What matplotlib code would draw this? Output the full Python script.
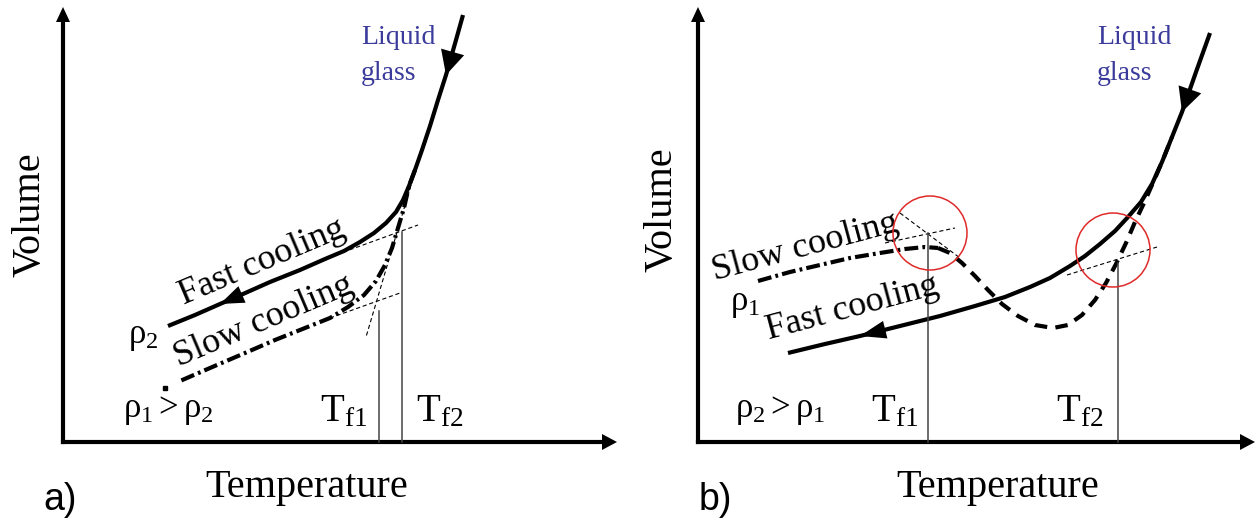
import numpy as np
import matplotlib
matplotlib.use("Agg")
from matplotlib import pyplot as plt
from matplotlib.patches import Polygon, Circle

plt.rcParams['mathtext.fontset'] = 'custom'
plt.rcParams['mathtext.rm'] = 'Liberation Serif'
plt.rcParams['mathtext.it'] = 'Liberation Serif:italic'
plt.rcParams['lines.scale_dashes'] = False

SERIF = 'Liberation Serif'
SANS = 'Liberation Sans'
BLUE = '#3b3b9b'
RED = '#e02a2a'

# ---- panel a (sketch coordinates, y grows downwards) ----
fast_a_x = [463, 456, 446, 438, 430, 422, 415, 409, 403, 396, 386, 374, 360, 344, 325, 300, 270, 243, 220, 195, 168]
fast_a_y = [15, 40, 75, 100, 126, 150, 170, 186, 200, 212, 223, 233, 242, 251, 259, 270, 282, 294, 304, 315, 326]
slow_a_x = [415, 409, 404, 398, 392, 385, 376, 364, 348, 330, 305, 275, 245, 210, 180]
slow_a_y = [170, 186, 208, 228, 248, 265, 281, 295, 307, 318, 328, 340, 353, 368, 381]
slow_a_dot = (165, 388)
ext_a = [((330, 418), (257, 225)), ((330, 400), (318, 293)), ((411, 366), (185, 337))]
tf_a_x = [379, 402]
tf_a_top = [311, 232]

# ---- panel b ----
fast_b_x = [1210, 1196, 1182, 1172, 1162, 1152, 1141, 1128, 1115, 1100, 1085, 1070, 1050, 1030, 1005, 975, 940, 900, 860, 825, 788]
fast_b_y = [33, 72, 112, 137, 162, 184, 202, 217, 231, 244, 256, 266, 278, 287, 297, 306, 316, 326, 336, 344, 353]
slow_b1_x = [758, 790, 820, 850, 880, 905, 925, 938]
slow_b1_y = [281, 272, 265, 258, 253, 249, 247, 248]
slow_b2_x = [938, 950, 962, 975, 988, 1002, 1018, 1035, 1053, 1068, 1082, 1095, 1106, 1116, 1126, 1135, 1144, 1152, 1162, 1172]
slow_b2_y = [248, 253, 263, 276, 290, 304, 316, 325, 328, 325, 315, 300, 283, 264, 243, 222, 203, 185, 162, 137]
ext_b = [((900, 960), (213, 258)), ((885, 955), (243, 228)), ((1067, 1157), (275, 247))]
tf_b_x = [928, 1118]
tf_b_top = [233, 263]
circles_b = [(930, 233), (1113, 250)]

AXIS_Y = 442


def head(ax, xs, ys, i, length, width):
    tx, ty = xs[i], ys[i]
    dx, dy = xs[i] - xs[i - 1], ys[i] - ys[i - 1]
    n = np.hypot(dx, dy)
    dx, dy = dx / n, dy / n
    bx, by = tx - dx * length, ty - dy * length
    px, py = -dy * width / 2, dx * width / 2
    ax.add_patch(Polygon([(tx, ty), (bx + px, by + py), (bx - px, by - py)],
                         closed=True, color='k', lw=0, zorder=5))


def axes_arrows(ax, x0, x1):
    ax.plot([x0, x0], [AXIS_Y, 20], color='k', lw=3, solid_capstyle='projecting')
    ax.plot([x0, x1 - 12], [AXIS_Y, AXIS_Y], color='k', lw=3, solid_capstyle='projecting')
    head(ax, [x0, x0], [AXIS_Y, 7], 1, 15, 14)
    head(ax, [x0, x1], [AXIS_Y, AXIS_Y], 1, 15, 16)


fig = plt.figure(figsize=(12.59, 5.22), dpi=100)
ax = fig.add_axes([0, 0, 1, 1])
ax.set_xlim(0, 1259)
ax.set_ylim(522, 0)
ax.axis('off')

# ---------- a) ----------
axes_arrows(ax, 63, 617)
ax.plot(slow_a_x, slow_a_y, color='k', lw=3, dashes=(10, 3, 2, 3))
ax.plot(*slow_a_dot, 'ks', ms=3.5)
ax.plot(fast_a_x, fast_a_y, color='k', lw=3, solid_capstyle='butt', solid_joinstyle='round')
head(ax, fast_a_x, fast_a_y, 2, 24, 24)
head(ax, fast_a_x, fast_a_y, 18, 24, 18)
for xs, ys in ext_a:
    ax.plot(xs, ys, color='k', lw=0.8, dashes=(3, 2))
for x, top in zip(tf_a_x, tf_a_top):
    ax.plot([x, x], [top, AXIS_Y], color='#444444', lw=1.1)

ax.text(30, 215, 'Volume', rotation=90, ha='center', va='center', family=SERIF, fontsize=29)
ax.text(307, 487, 'Temperature', ha='center', va='center', family=SERIF, fontsize=29)
ax.text(60, 500, 'a)', ha='center', va='center', family=SANS, fontsize=27)
ax.text(361, 44, 'Liquid', ha='left', va='baseline', family=SERIF, fontsize=20, color=BLUE)
ax.text(361, 80, 'glass', ha='left', va='baseline', family=SERIF, fontsize=20, color=BLUE)
ax.text(262, 262, 'Fast cooling', rotation=23, rotation_mode='anchor', ha='center', va='center',
        family=SERIF, fontsize=26)
ax.text(264, 321, 'Slow cooling', rotation=23, rotation_mode='anchor', ha='center', va='center',
        family=SERIF, fontsize=26)
ax.text(143, 336, r'$\mathrm{\rho_2}$', ha='center', va='center', fontsize=25)
ax.text(168, 410, r'$\mathrm{\rho_1 > \rho_2}$', ha='center', va='center', fontsize=25)
ax.text(344, 410, r'$\mathrm{T_{f1}}$', ha='center', va='center', fontsize=28)
ax.text(440, 410, r'$\mathrm{T_{f2}}$', ha='center', va='center', fontsize=28)

# ---------- b) ----------
axes_arrows(ax, 698, 1255)
ax.plot(slow_b1_x, slow_b1_y, color='k', lw=3, dashes=(10, 3, 2, 3))
ax.plot(slow_b2_x, slow_b2_y, color='k', lw=3, dashes=(9, 6))
ax.plot(fast_b_x, fast_b_y, color='k', lw=3, solid_capstyle='butt', solid_joinstyle='round')
head(ax, fast_b_x, fast_b_y, 2, 24, 24)
head(ax, fast_b_x, fast_b_y, 18, 26, 18)
for xs, ys in ext_b:
    ax.plot(xs, ys, color='k', lw=0.8, dashes=(3, 2))
for x, top in zip(tf_b_x, tf_b_top):
    ax.plot([x, x], [top, AXIS_Y], color='#444444', lw=1.1)
for c in circles_b:
    ax.add_patch(Circle(c, 37, fill=False, ec=RED, lw=1.1, zorder=6))

ax.text(662, 210, 'Volume', rotation=90, ha='center', va='center', family=SERIF, fontsize=29)
ax.text(998, 487, 'Temperature', ha='center', va='center', family=SERIF, fontsize=29)
ax.text(715, 500, 'b)', ha='center', va='center', family=SANS, fontsize=27)
ax.text(1097, 44, 'Liquid', ha='left', va='baseline', family=SERIF, fontsize=20, color=BLUE)
ax.text(1097, 80, 'glass', ha='left', va='baseline', family=SERIF, fontsize=20, color=BLUE)
ax.text(805, 247, 'Slow cooling', rotation=15, rotation_mode='anchor', ha='center', va='center',
        family=SERIF, fontsize=26)
ax.text(852, 308, 'Fast cooling', rotation=15, rotation_mode='anchor', ha='center', va='center',
        family=SERIF, fontsize=26)
ax.text(745, 303, r'$\mathrm{\rho_1}$', ha='center', va='center', fontsize=25)
ax.text(780, 410, r'$\mathrm{\rho_2 > \rho_1}$', ha='center', va='center', fontsize=25)
ax.text(895, 410, r'$\mathrm{T_{f1}}$', ha='center', va='center', fontsize=28)
ax.text(1080, 410, r'$\mathrm{T_{f2}}$', ha='center', va='center', fontsize=28)

fig.savefig('out.png', dpi=100)
